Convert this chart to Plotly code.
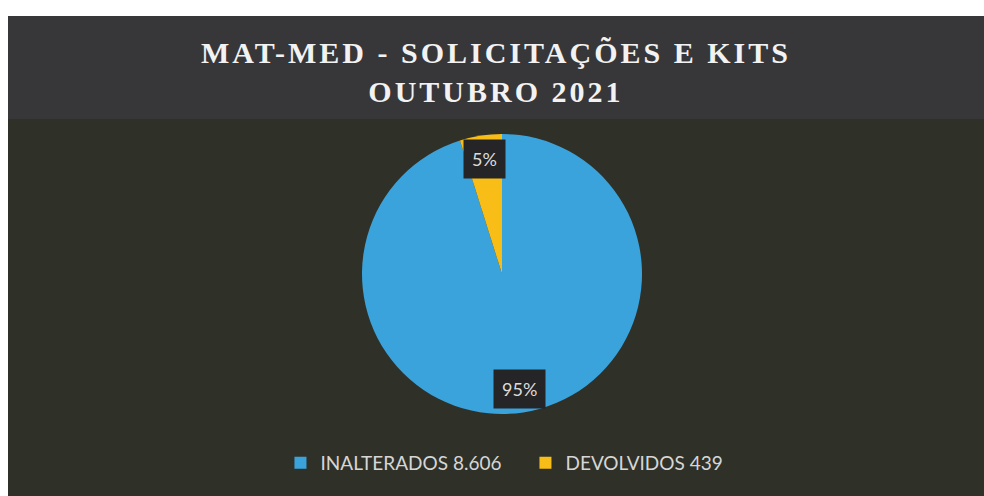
import math
import plotly.graph_objects as go

# ---- data ----
categories = ["INALTERADOS", "DEVOLVIDOS"]
values = [8606, 439]
colors = ["#3ba3dc", "#f8bd17"]
title_lines = ["MAT-MED - SOLICITAÇÕES E KITS", "OUTUBRO 2021"]

W, H = 984, 496

def fmt(v):
    return f"{v:,}".replace(",", ".")

labels = [f"{c} {fmt(v)}" for c, v in zip(categories, values)]

# pie geometry (pixels)
cx, cy, R = 502, 274, 140
dom_x = [(cx - R) / W, (cx + R) / W]
dom_y = [1 - (cy + R) / H, 1 - (cy - R) / H]

fig = go.Figure(go.Pie(
    labels=labels,
    values=values,
    marker=dict(colors=colors, line=dict(width=0)),
    sort=False,
    direction="clockwise",
    rotation=0,
    textinfo="none",
    hoverinfo="label+percent",
    domain=dict(x=dom_x, y=dom_y),
))

# percentage labels in dark boxes, at each slice's mid-angle
total = sum(values)
cum = 0
annotations = []
for v in values:
    frac = v / total
    mid = (cum + frac / 2) * 2 * math.pi
    cum += frac
    px = cx + 0.83 * R * math.sin(mid)
    py = cy - 0.83 * R * math.cos(mid)
    annotations.append(dict(
        x=px / W, y=1 - py / H, xref="paper", yref="paper",
        text=f"{round(frac * 100)}%", showarrow=False,
        font=dict(family="Lato", size=18, color="#dcdcdc"),
        bgcolor="#252427", borderpad=8,
        xanchor="center", yanchor="middle",
    ))

title_html = "<br>".join(f'<span style="letter-spacing:3px">{t}</span>' for t in title_lines)
annotations.append(dict(
    x=(8 + W) / 2 / W, y=1 - 72 / H, xref="paper", yref="paper",
    text=title_html, showarrow=False,
    font=dict(family="Liberation Serif", size=30, color="#f2f2f2", weight="bold"),
    xanchor="center", yanchor="middle", align="center",
))

shapes = [
    dict(type="rect", xref="paper", yref="paper", x0=8 / W, x1=1, y0=1 - 119 / H, y1=1 - 16 / H,
         fillcolor="#37373a", line=dict(width=0), layer="below"),
    dict(type="rect", xref="paper", yref="paper", x0=8 / W, x1=1, y0=0, y1=1 - 119 / H,
         fillcolor="#2f3129", line=dict(width=0), layer="below"),
]

fig.update_layout(
    width=W, height=H,
    margin=dict(l=0, r=0, t=0, b=0),
    paper_bgcolor="#ffffff",
    plot_bgcolor="#ffffff",
    showlegend=True,
    legend=dict(
        orientation="h", x=0.534, xanchor="center", y=1 - 463 / H, yanchor="middle",
        font=dict(family="Lato", size=19, color="#d6d6d6"),
        bgcolor="rgba(0,0,0,0)", traceorder="normal",
        entrywidth=200,
    ),
    annotations=annotations,
    shapes=shapes,
)

fig.write_html(
    "out.html",
    config={"displayModeBar": False},
    post_script="document.body.style.margin='0';document.body.style.overflow='hidden';",
)
